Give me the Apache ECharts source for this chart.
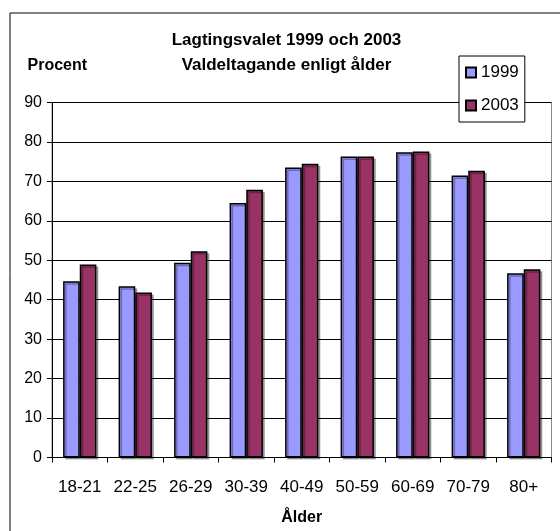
<!DOCTYPE html>
<html>
<head>
<meta charset="utf-8">
<script src="https://cdn.jsdelivr.net/npm/echarts@6/dist/echarts.min.js"></script>
<style>html,body{margin:0;padding:0;background:#fff}#c{width:560px;height:531px}</style>
</head>
<body>
<div id="c"></div>
<script>
const categories = ['18-21','22-25','26-29','30-39','40-49','50-59','60-69','70-79','80+'];
const values1999 = [44.7, 43.4, 49.4, 64.5, 73.5, 76.3, 77.4, 71.5, 46.7];
const values2003 = [48.9, 41.8, 52.3, 67.9, 74.5, 76.3, 77.6, 72.7, 47.7];
const yTicks = [0, 10, 20, 30, 40, 50, 60, 70, 80, 90];

const F = '"Liberation Sans", Arial, sans-serif';
const chart = echarts.init(document.getElementById('c'), null, {renderer: 'canvas'});
const barStyle = (c) => ({
  color: c, borderColor: '#000', borderWidth: 1.5,
  shadowColor: 'rgba(0,0,0,0.3)', shadowOffsetX: 2, shadowOffsetY: 2, shadowBlur: 0
});
chart.setOption({
  animation: false,
  backgroundColor: '#fff',
  graphic: [{
    type: 'rect', left: 7.5, top: 10.5, z: -1,
    shape: {x: 0, y: 0, width: 700, height: 700},
    style: {fill: 'none', stroke: '#000', lineWidth: 1}
  }],
  title: [{
    text: 'Lagtingsvalet 1999 och 2003\nValdeltagande enligt ålder',
    left: 286.5, top: 27.5, textAlign: 'center', padding: 0,
    textStyle: {fontFamily: F, fontSize: 17, fontWeight: 'bold', color: '#000', lineHeight: 25}
  }, {
    text: 'Procent', left: 27.5, top: 57.5, padding: 0,
    textStyle: {fontFamily: F, fontSize: 16, fontWeight: 'bold', color: '#000', lineHeight: 16}
  }],
  legend: {
    orient: 'vertical', left: 459, top: 56,
    backgroundColor: '#fff', borderColor: '#000', borderWidth: 1,
    padding: [8, 6, 8, 6], itemGap: 16, itemWidth: 10, itemHeight: 10,
    icon: 'rect',
    textStyle: {fontFamily: F, fontSize: 17, color: '#000', lineHeight: 17, padding: [0,0,0,0]},
    data: ['1999', '2003']
  },
  grid: {left: 52, right: 8.5, top: 102.5, bottom: 73.5, show: true, borderColor: '#888', borderWidth: 1, containLabel: false},
  xAxis: {
    type: 'category', data: categories,
    name: 'Ålder', nameLocation: 'middle', nameGap: 52,
    nameTextStyle: {fontFamily: F, fontSize: 16, fontWeight: 'bold', color: '#000'},
    axisLine: {lineStyle: {color: '#000', width: 1}},
    axisTick: {show: true, length: 5, lineStyle: {color: '#000'}},
    axisLabel: {fontFamily: F, fontSize: 17, color: '#000', margin: 21, interval: 0},
    splitLine: {show: false}
  },
  yAxis: {
    type: 'value', min: yTicks[0], max: yTicks[yTicks.length-1], interval: 10,
    axisLine: {show: true, lineStyle: {color: '#000', width: 1}},
    axisTick: {show: true, length: 5, lineStyle: {color: '#000'}},
    axisLabel: {fontFamily: F, fontSize: 16, color: '#000', margin: 10},
    splitLine: {show: true, lineStyle: {color: '#000', width: 1}}
  },
  series: [{
    name: '1999', type: 'bar', data: values1999, barGap: '0%', barCategoryGap: '40%',
    itemStyle: barStyle('#9999FF')
  }, {
    name: '2003', type: 'bar', data: values2003, barGap: '0%', barCategoryGap: '40%',
    itemStyle: barStyle('#993366')
  }]
});
</script>
</body>
</html>
